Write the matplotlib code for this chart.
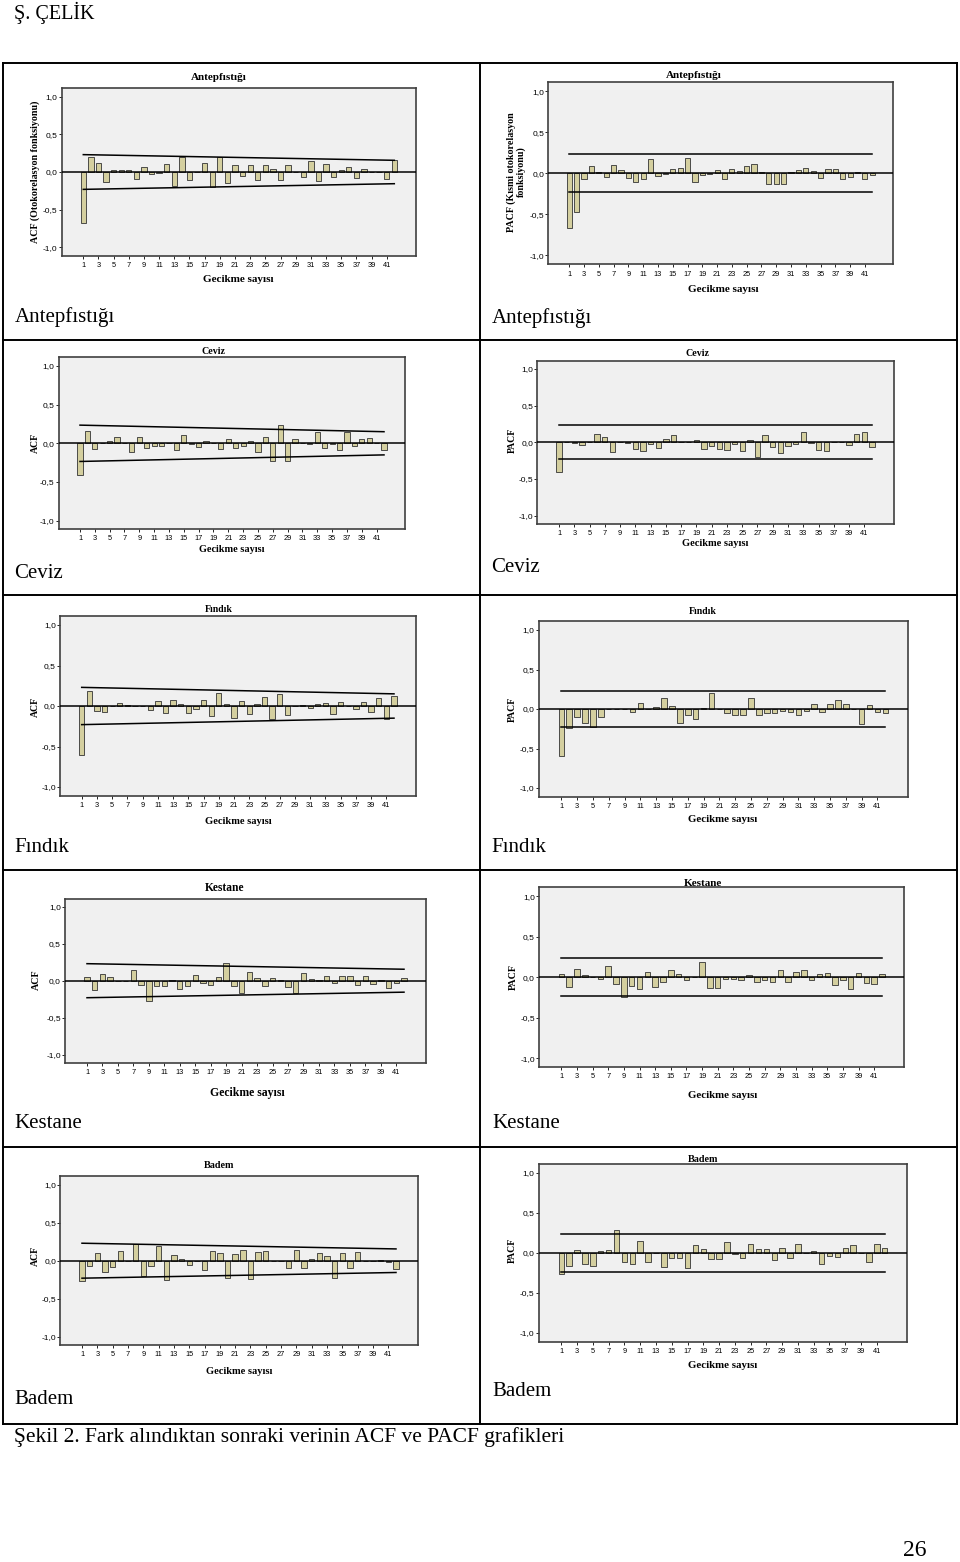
#!/usr/bin/env python
# -*- coding: utf-8 -*-

import numpy as np
import matplotlib
matplotlib.use('Agg')
from matplotlib import pyplot as plt
from matplotlib.lines import Line2D

# 遅れ (gecikme) 1..42
lags = np.arange(1, 43)
x_ticks = np.arange(1, 42, 2)
y_ticks = [1.0, 0.5, 0.0, -0.5, -1.0]
y_tick_labels = ['1,0', '0,5', '0,0', '-0,5', '-1,0']

# ACF / PACF の値
ant_acf = [-0.67, 0.20, 0.115, -0.13, 0.03, 0.03, 0.03, -0.09, 0.07, -0.02,
           -0.015, 0.105, -0.18, 0.20, -0.10, 0.005, 0.12, -0.195, 0.20, -0.14,
           0.09, -0.05, 0.09, -0.10, 0.09, 0.035, -0.11, 0.09, 0.005, -0.07,
           0.14, -0.125, 0.10, -0.065, 0.02, 0.07, -0.085, 0.035, 0.005, 0.0, -0.09, 0.155]
ant_pacf = [-0.67, -0.475, -0.07, 0.09, 0.02, -0.045, 0.105, 0.04, -0.06, -0.105,
            -0.065, 0.175, -0.035, -0.005, 0.055, 0.07, 0.185, -0.10, -0.025, -0.01,
            0.045, -0.065, 0.05, 0.025, 0.085, 0.115, 0.01, -0.125, -0.125, -0.125,
            0.01, 0.035, 0.07, 0.03, -0.06, 0.055, 0.05, -0.07, -0.05, 0.02, -0.07, -0.025]
ceviz_acf = [-0.405, 0.165, -0.07, 0.0, 0.025, 0.08, 0.005, -0.115, 0.085, -0.065,
             -0.03, -0.035, 0.01, -0.09, 0.11, -0.005, -0.045, 0.025, 0.0, -0.08,
             0.06, -0.065, -0.035, 0.035, -0.11, 0.085, -0.235, 0.24, -0.23, 0.05,
             0.0, -0.005, 0.14, -0.065, -0.005, -0.085, 0.14, -0.04, 0.05, 0.07, 0.005, -0.09]
ceviz_pacf = [-0.405, 0.0, -0.005, -0.035, 0.005, 0.115, 0.075, -0.13, 0.0, -0.005,
              -0.095, -0.115, -0.03, -0.08, 0.04, 0.105, 0.005, 0.0, 0.025, -0.095,
              -0.055, -0.095, -0.105, -0.025, -0.12, 0.035, -0.205, 0.095, -0.065, -0.14,
              -0.05, -0.025, 0.135, -0.005, -0.10, -0.115, 0.005, 0.0, -0.04, 0.12, 0.135, -0.07]
findik_acf = [-0.60, 0.185, -0.065, -0.075, 0.005, 0.04, 0.015, -0.005, 0.005, -0.05,
              0.065, -0.09, 0.08, 0.02, -0.09, -0.04, 0.08, -0.12, 0.16, 0.02,
              -0.15, 0.065, -0.095, 0.03, 0.105, -0.165, 0.145, -0.105, 0.0, 0.01,
              -0.02, 0.03, 0.04, -0.10, 0.045, 0.0, -0.035, 0.055, -0.08, 0.10, -0.155, 0.12]
findik_pacf = [-0.59, -0.24, -0.10, -0.18, -0.23, -0.105, 0.005, 0.005, -0.005, -0.035,
               0.07, 0.0, 0.02, 0.145, 0.04, -0.175, -0.07, -0.125, 0.015, 0.20,
               0.0, -0.05, -0.08, -0.07, 0.145, -0.07, -0.05, -0.05, -0.03, -0.04,
               -0.08, -0.02, 0.065, -0.035, 0.06, 0.11, 0.065, -0.005, -0.195, 0.055, -0.04, -0.045]
kestane_acf = [0.045, -0.125, 0.085, 0.045, -0.005, -0.01, 0.14, -0.06, -0.27, -0.075,
               -0.075, 0.005, -0.11, -0.07, 0.08, -0.03, -0.055, 0.055, 0.245, -0.075,
               -0.165, 0.12, 0.04, -0.065, 0.035, 0.005, -0.085, -0.17, 0.11, 0.02,
               0.01, 0.065, -0.03, 0.06, 0.06, -0.06, 0.065, -0.04, 0.015, -0.105, -0.035, 0.035]
kestane_pacf = [0.045, -0.125, 0.10, 0.03, 0.005, -0.015, 0.14, -0.08, -0.24, -0.105,
                -0.145, 0.06, -0.115, -0.055, 0.085, 0.035, -0.035, 0.0, 0.19, -0.135,
                -0.135, -0.02, -0.02, -0.035, 0.03, -0.055, -0.035, -0.06, 0.09, -0.055,
                0.06, 0.095, -0.03, 0.035, 0.05, -0.10, -0.035, -0.15, 0.05, -0.075, -0.085, 0.045]
badem_acf = [-0.27, -0.075, 0.105, -0.15, -0.08, 0.125, 0.0, 0.225, -0.205, -0.075,
             0.20, -0.255, 0.07, 0.025, -0.06, 0.0, -0.12, 0.13, 0.095, -0.23,
             0.085, 0.145, -0.235, 0.11, 0.125, 0.0, 0.0, -0.095, 0.135, -0.09,
             0.025, 0.105, 0.06, -0.225, 0.095, -0.09, 0.12, 0.0, 0.0, 0.005, -0.02, -0.115]
badem_pacf = [-0.27, -0.165, 0.04, -0.135, -0.165, 0.02, 0.04, 0.285, -0.115, -0.14,
              0.145, -0.12, 0.0, -0.175, -0.06, -0.06, -0.19, 0.10, 0.05, -0.08,
              -0.08, 0.13, -0.02, -0.06, 0.115, 0.05, 0.05, -0.095, 0.065, -0.07,
              0.115, 0.0, 0.02, -0.135, -0.035, -0.05, 0.06, 0.10, 0.0, -0.11, 0.11, 0.055]

# 信頼限界 (lag1, lag42)
ant_acf_band = [0.23, 0.155]
ceviz_acf_band = [0.235, 0.15]
findik_acf_band = [0.23, 0.15]
kestane_acf_band = [0.23, 0.155]
badem_acf_band = [0.23, 0.155]
ant_pacf_band = [0.23, 0.23]
ceviz_pacf_band = [0.23, 0.23]
findik_pacf_band = [0.23, 0.23]
kestane_pacf_band = [0.235, 0.235]
badem_pacf_band = [0.235, 0.235]

W, H = 960, 1562
SERIF = ['Liberation Serif', 'DejaVu Serif']
SANS = ['Liberation Sans', 'DejaVu Sans']
BAR = '#d4cf9f'

fig = plt.figure(figsize=(W / 100, H / 100), dpi=100)
fig.patch.set_facecolor('white')


def ftext(x, y, s, **kw):
    # ピクセル座標でテキストを置く
    fig.text(x / W, 1 - y / H, s, **kw)


def draw_panel(values, band, geom, title, title_xy, title_size,
               ylabel, ylabel_xy, ylabel_size, xlabel_xy, xlabel_size):
    x1, x42, y0, unit = geom
    sp = (x42 - x1) / 41
    left, right = x1 - 2.85 * sp, x42 + 2.85 * sp
    top, bottom = y0 - 1.11 * unit, y0 + 1.11 * unit
    ax = fig.add_axes([left / W, 1 - bottom / H, (right - left) / W, (bottom - top) / H])
    ax.set_facecolor('#f0f0f0')
    ax.bar(lags, values, width=0.7, color=BAR, edgecolor='#333333', linewidth=0.6, zorder=2)
    ax.axhline(0, color='black', lw=1.1, zorder=3)
    ax.plot([lags[0], lags[-1]], [band[0], band[1]], color='black', lw=1.1, zorder=3)
    ax.plot([lags[0], lags[-1]], [-band[0], -band[1]], color='black', lw=1.1, zorder=3)
    ax.set_xlim(-1.85, 44.85)
    ax.set_ylim(-1.11, 1.11)
    ax.set_xticks(x_ticks)
    ax.set_xticklabels([str(t) for t in x_ticks], fontsize=5.3, family=SANS)
    ax.set_yticks(y_ticks)
    ax.set_yticklabels(y_tick_labels, fontsize=6, family=SANS)
    ax.tick_params(axis='x', length=2, width=0.6, pad=2.5)
    ax.tick_params(axis='y', length=2.5, width=0.6, pad=0.5)
    for s in ax.spines.values():
        s.set_color('#404040')
        s.set_linewidth(1.2)
    ftext(title_xy[0], title_xy[1], title, ha='center', va='center',
          fontsize=title_size, fontweight='bold', family=SERIF)
    ftext(ylabel_xy[0], ylabel_xy[1], ylabel, ha='center', va='center', rotation=90,
          fontsize=ylabel_size, fontweight='bold', family=SERIF, linespacing=1.0)
    ftext(xlabel_xy[0], xlabel_xy[1], 'Gecikme sayısı', ha='center', va='center',
          fontsize=xlabel_size, fontweight='bold', family=SERIF)
    return ax


# 表の枠線
bg = fig.add_axes([0, 0, 1, 1], zorder=-5)
bg.set_xlim(0, W)
bg.set_ylim(H, 0)
bg.axis('off')
for (xa, ya, xb, yb) in [(3, 63, 957, 63), (3, 1424, 957, 1424), (3, 63, 3, 1424),
                         (957, 63, 957, 1424), (480, 63, 480, 1424),
                         (3, 340, 957, 340), (3, 595, 957, 595),
                         (3, 870, 957, 870), (3, 1147, 957, 1147)]:
    bg.add_line(Line2D([xa, xb], [ya, yb], color='black', lw=1.4))

# 各パネル
draw_panel(ant_acf, ant_acf_band, (83.3, 394.3, 172.0, 75.5), 'Antepfıstığı', (219, 77), 8,
           'ACF (Otokorelasyon fonksiyonu)', (35, 172), 7.2, (238, 280), 8)
draw_panel(ant_pacf, ant_pacf_band, (569.3, 872.3, 173.3, 82), 'Antepfıstığı', (694, 76), 8,
           'PACF (Kısmi otokorelasyon\nfonksiyonu)', (516, 172), 7.2, (723, 290), 8)
draw_panel(ceviz_acf, ceviz_acf_band, (80, 384, 443.3, 77.3), 'Ceviz', (213, 352), 7.2,
           'ACF', (35, 443), 7, (232, 549), 7.4)
draw_panel(ceviz_pacf, ceviz_pacf_band, (559, 872, 442.3, 73.3), 'Ceviz', (697, 353), 7.2,
           'PACF', (512, 440), 7, (715, 544), 7.5)
draw_panel(findik_acf, findik_acf_band, (81.7, 394, 706, 81), 'Fındık', (219, 609), 7,
           'ACF', (35, 707), 7, (238, 822), 7.6)
draw_panel(findik_pacf, findik_pacf_band, (561.3, 885.3, 709, 79), 'Fındık', (703, 612), 7,
           'PACF', (512, 709), 7, (723, 820), 7.8)
draw_panel(kestane_acf, kestane_acf_band, (87, 404, 980.7, 74), 'Kestane', (225, 888), 8.3,
           'ACF', (36, 980), 7.2, (247, 1093), 8.5)
draw_panel(kestane_pacf, kestane_pacf_band, (561.3, 882, 977.3, 81), 'Kestane', (703, 883), 8,
           'PACF', (513, 977), 7.2, (723, 1095), 7.8)
draw_panel(badem_acf, badem_acf_band, (82, 396, 1260.7, 76), 'Badem', (219, 1165), 7.3,
           'ACF', (35, 1256), 7, (239, 1372), 7.5)
draw_panel(badem_pacf, badem_pacf_band, (561.3, 884.7, 1252.7, 80), 'Badem', (703, 1160), 7.3,
           'PACF', (512, 1250), 7, (723, 1366), 7.8)

# セルのラベル
cell_labels = [('Antepfıstığı', 15, 317), ('Antepfıstığı', 492, 318),
               ('Ceviz', 14, 574), ('Ceviz', 491, 568),
               ('Fındık', 14, 847), ('Fındık', 491, 847),
               ('Kestane', 14, 1124), ('Kestane', 492, 1124),
               ('Badem', 14, 1399), ('Badem', 492, 1392)]
for (s, x, y) in cell_labels:
    bg.text(x, y, s, ha='left', va='center', fontsize=15, family=SERIF)

# ヘッダ・キャプション・ページ番号
bg.text(14, 13, 'Ş. ÇELİK', ha='left', va='center', fontsize=14.5, family=SERIF)
bg.text(14, 1437, 'Şekil 2. Fark alındıktan sonraki verinin ACF ve PACF grafikleri',
        ha='left', va='center', fontsize=15.5, family=SERIF)
bg.text(926, 1551, '26', ha='right', va='center', fontsize=17, family=SERIF)

fig.savefig('out.png', dpi=100)
